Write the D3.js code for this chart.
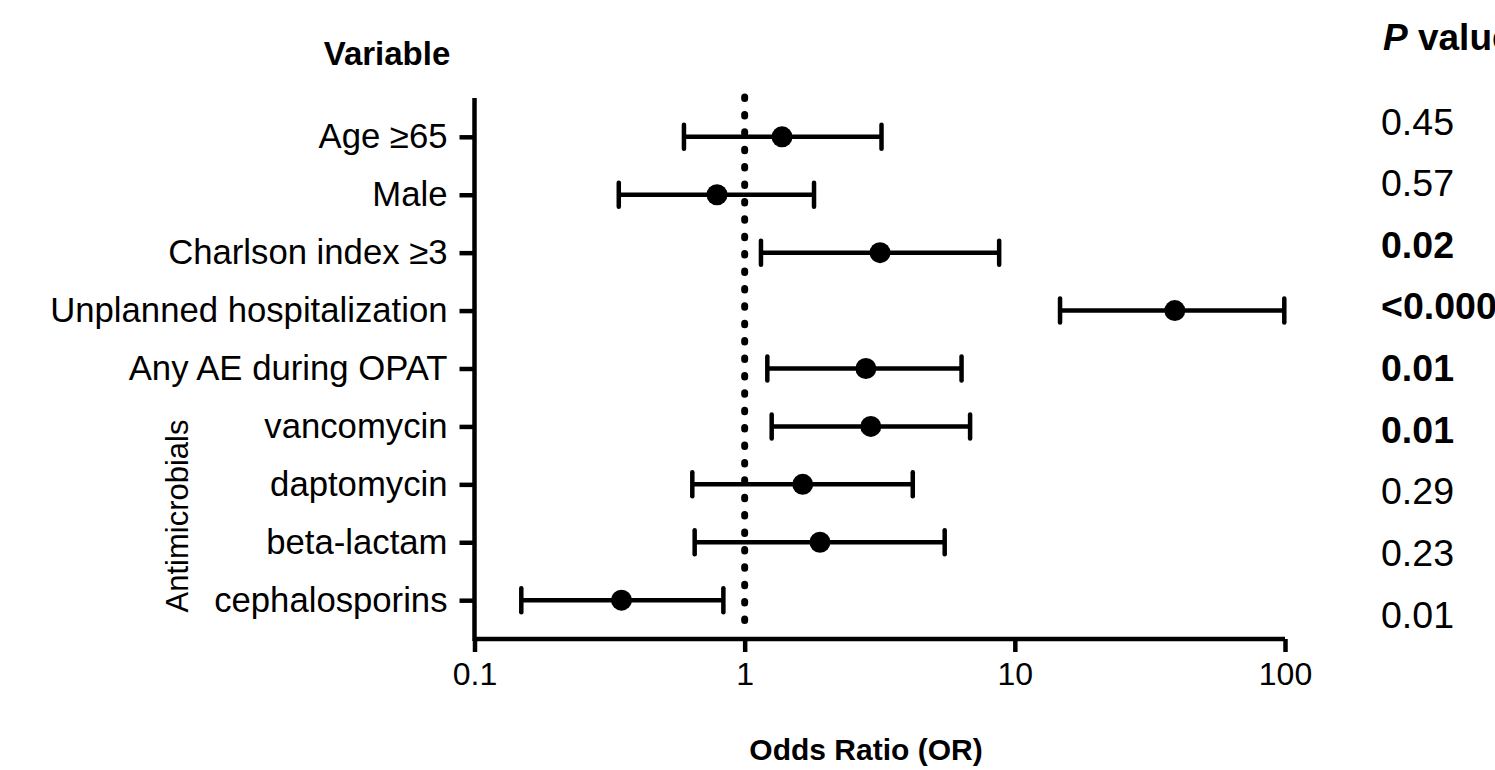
<!DOCTYPE html>
<html>
<head>
<meta charset="utf-8">
<script src="https://cdn.jsdelivr.net/npm/d3@7"></script>
<style>
  body { margin: 0; background: #fff; }
  svg { display: block; font-family: "Liberation Sans", Arial, sans-serif; }
</style>
</head>
<body>
<svg id="chart" width="1495" height="770"></svg>
<script>
// data
var variables = ["Age \u226565", "Male", "Charlson index \u22653", "Unplanned hospitalization",
  "Any AE during OPAT", "vancomycin", "daptomycin", "beta-lactam", "cephalosporins"];
var oddsRatio = [1.375, 0.79, 3.17, 39.1, 2.81, 2.93, 1.64, 1.90, 0.35];
var ciLow = [0.596, 0.342, 1.149, 14.7, 1.213, 1.259, 0.640, 0.653, 0.149];
var ciHigh = [3.21, 1.806, 8.75, 99.4, 6.35, 6.83, 4.19, 5.50, 0.834];
var pValues = ["0.45", "0.57", "0.02", "<0.0001", "0.01", "0.01", "0.29", "0.23", "0.01"];
var pBold = [false, false, true, true, true, true, false, false, false];
var xTicks = [0.1, 1, 10, 100];

var rows = variables.map(function(v, i) {
  return { name: v, or: oddsRatio[i], lo: ciLow[i], hi: ciHigh[i], p: pValues[i], bold: pBold[i] };
});

var svg = d3.select("#chart");

var x = d3.scaleLog().domain([0.1, 100]).range([474.5, 1285]);
var y = d3.scalePoint().domain(variables).range([98, 639]).padding(0.67);
// p value column is spaced a bit wider than the rows
var yp = d3.scalePoint().domain(variables).range([121, 614]);

// x axis
var xAxis = svg.append("g")
  .attr("transform", "translate(0,639)")
  .call(d3.axisBottom(x).tickValues(xTicks).tickFormat(d3.format("")).tickSize(13).tickPadding(10));
xAxis.select(".domain").attr("stroke", "#000").attr("stroke-width", 4.5).attr("d", "M474.5,0H1285");
xAxis.selectAll(".tick line").attr("stroke", "#000").attr("stroke-width", 4.5);
xAxis.selectAll(".tick text").attr("fill", "#000").attr("font-size", 32).attr("font-family", "Liberation Sans, Arial, sans-serif");

// y axis
var yAxis = svg.append("g")
  .attr("transform", "translate(474.5,0)")
  .call(d3.axisLeft(y).tickSize(15).tickPadding(12));
yAxis.select(".domain").attr("stroke", "#000").attr("stroke-width", 4.5).attr("d", "M0,98V641");
yAxis.selectAll(".tick line").attr("stroke", "#000").attr("stroke-width", 4.5);
yAxis.selectAll(".tick text").attr("fill", "#000").attr("font-size", 34.7).attr("font-family", "Liberation Sans, Arial, sans-serif");

// dotted line at OR = 1
svg.append("line")
  .attr("x1", x(1)).attr("x2", x(1))
  .attr("y1", 97).attr("y2", 630)
  .attr("stroke", "#000")
  .attr("stroke-width", 7)
  .attr("stroke-linecap", "round")
  .attr("stroke-dasharray", "1.5 15.9");

// error bars
var bars = svg.append("g").selectAll("g").data(rows).enter().append("g")
  .attr("transform", function(d) { return "translate(0," + y(d.name) + ")"; });

bars.append("line")
  .attr("x1", function(d) { return x(d.lo); })
  .attr("x2", function(d) { return x(d.hi); })
  .attr("stroke", "#000").attr("stroke-width", 4.5);

bars.append("line")
  .attr("x1", function(d) { return x(d.lo); })
  .attr("x2", function(d) { return x(d.lo); })
  .attr("y1", -12).attr("y2", 12)
  .attr("stroke", "#000").attr("stroke-width", 4.5).attr("stroke-linecap", "round");

bars.append("line")
  .attr("x1", function(d) { return x(d.hi); })
  .attr("x2", function(d) { return x(d.hi); })
  .attr("y1", -12).attr("y2", 12)
  .attr("stroke", "#000").attr("stroke-width", 4.5).attr("stroke-linecap", "round");

bars.append("circle")
  .attr("cx", function(d) { return x(d.or); })
  .attr("r", 10.5)
  .attr("fill", "#000");

// p values
svg.append("g").selectAll("text").data(rows).enter().append("text")
  .attr("x", 1381)
  .attr("y", function(d) { return yp(d.name); })
  .attr("dy", "0.36em")
  .attr("font-size", 37.5)
  .attr("font-weight", function(d) { return d.bold ? "bold" : "normal"; })
  .text(function(d) { return d.p; });

// headers and titles
svg.append("text")
  .attr("x", 387).attr("y", 65)
  .attr("text-anchor", "middle")
  .attr("font-size", 33).attr("font-weight", "bold")
  .text("Variable");

var ph = svg.append("text")
  .attr("x", 1383).attr("y", 50)
  .attr("font-size", 37).attr("font-weight", "bold");
ph.append("tspan").attr("font-style", "italic").text("P");
ph.append("tspan").text(" value");

svg.append("text")
  .attr("x", 866).attr("y", 760)
  .attr("text-anchor", "middle")
  .attr("font-size", 30).attr("font-weight", "bold")
  .text("Odds Ratio (OR)");

svg.append("text")
  .attr("transform", "translate(188,516) rotate(-90)")
  .attr("text-anchor", "middle")
  .attr("font-size", 31)
  .text("Antimicrobials");
</script>
</body>
</html>
